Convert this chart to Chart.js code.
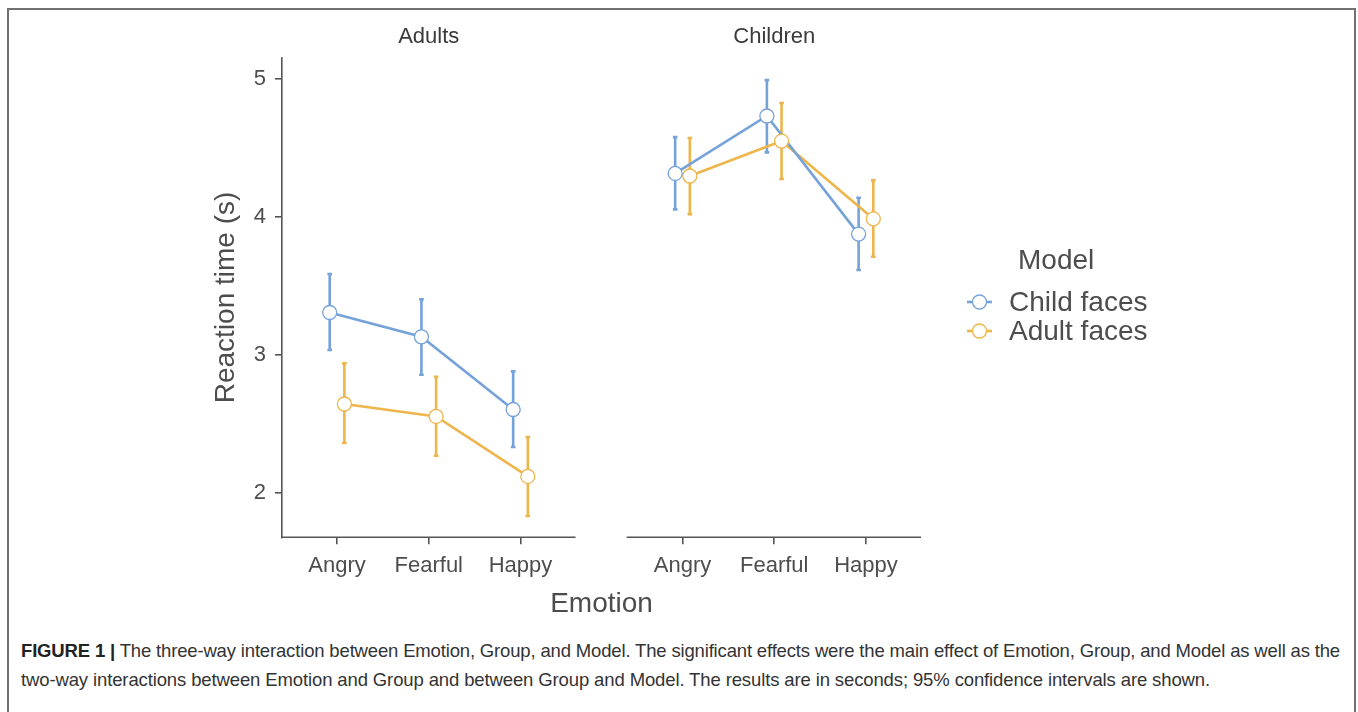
<!DOCTYPE html>
<html>
<head>
<meta charset="utf-8">
<script src="https://cdn.jsdelivr.net/npm/chart.js@4.4.0/dist/chart.umd.min.js"></script>
<style>
  body { margin: 0; background: #fff; width: 1358px; height: 712px; overflow: hidden; position: relative;
         font-family: "Liberation Sans", Arial, sans-serif; }
  #frame { position: absolute; left: 7px; top: 8px; width: 1345px; height: 720px;
           border: 2px solid #707070; border-bottom: none; }
  #c { position: absolute; left: 0; top: 0; }
  .cap { position: absolute; left: 21px; font-size: 18.5px; line-height: 22px; color: #333; white-space: nowrap; }
  .cap b { font-weight: bold; color: #222; }
</style>
</head>
<body>
<div id="frame"></div>
<canvas id="c" width="1358" height="640"></canvas>
<div class="cap" id="cap1" style="top:640px"><b>FIGURE 1 |</b> The three-way interaction between Emotion, Group, and Model. The significant effects were the main effect of Emotion, Group, and Model as well as the</div>
<div class="cap" id="cap2" style="top:669px">two-way interactions between Emotion and Group and between Group and Model. The results are in seconds; 95% confidence intervals are shown.</div>
<script>
'use strict';

// categories
var emotions = ['Angry', 'Fearful', 'Happy'];
var groups = ['Adults', 'Children'];
var models = ['Child faces', 'Adult faces'];
var colors = ['#76a2da', '#eeb54b'];
var yTicks = [2, 3, 4, 5];

// values: Adults panel (Angry, Fearful, Happy) then Children panel
var childFacesMean = [3.304, 3.128, 2.601, 4.312, 4.728, 3.872];
var childFacesLow  = [3.032, 2.853, 2.329, 4.051, 4.464, 3.612];
var childFacesHigh = [3.583, 3.399, 2.877, 4.575, 4.988, 4.135];

var adultFacesMean = [2.641, 2.551, 2.116, 4.293, 4.546, 3.983];
var adultFacesLow  = [2.358, 2.266, 1.829, 4.017, 4.271, 3.708];
var adultFacesHigh = [2.935, 2.838, 2.401, 4.568, 4.822, 4.261];

var means = [childFacesMean, adultFacesMean];
var lows = [childFacesLow, adultFacesLow];
var highs = [childFacesHigh, adultFacesHigh];

var panelShift = 3.766;   // second facet sits after the first on one linear x scale
var dodge = [-0.08, 0.08];
var axisColor = '#555555';
var textColor = '#4d4d4d';

Chart.defaults.font.family = '"Liberation Sans", Arial, sans-serif';

function xPos(i, k) {
    var g = Math.floor(i / 3);
    return (i % 3) + 1 + g * panelShift + dodge[k];
}

function points(k) {
    return means[k].map(function (v, i) { return {x: xPos(i, k), y: v}; });
}

function linePoints(k) {
    var p = points(k);
    // break between the two facets
    p.splice(3, 0, {x: 3.6 + panelShift / 2, y: null});
    return p;
}

var tickVals = [];
groups.forEach(function (g, gi) {
    emotions.forEach(function (e, ei) { tickVals.push(ei + 1 + gi * panelShift); });
});

var datasets = [];
models.forEach(function (m, k) {
    datasets.push({
        label: m,
        data: points(k),
        showLine: false,
        pointRadius: 7,
        pointHoverRadius: 7,
        pointBorderWidth: 1.3,
        pointBackgroundColor: '#ffffff',
        pointBorderColor: colors[k],
        order: 0
    });
});
models.forEach(function (m, k) {
    datasets.push({
        label: m + ' line',
        data: linePoints(k),
        borderColor: colors[k],
        borderWidth: 2.6,
        pointRadius: 0,
        spanGaps: false,
        order: 1 + k
    });
});

var facetPlugin = {
    id: 'facets',
    beforeDatasetsDraw: function (chart) {
        var ctx = chart.ctx, xs = chart.scales.x, ys = chart.scales.y;
        ctx.save();
        ctx.lineWidth = 2.6;
        ctx.lineCap = 'butt';
        for (var k = models.length - 1; k >= 0; k--) {
            ctx.strokeStyle = colors[k];
            lows[k].forEach(function (lo, i) {
                var px = xs.getPixelForValue(xPos(i, k));
                var y1 = ys.getPixelForValue(lo);
                var y2 = ys.getPixelForValue(highs[k][i]);
                ctx.beginPath();
                ctx.moveTo(px, y1); ctx.lineTo(px, y2);
                ctx.moveTo(px - 2.3, y1); ctx.lineTo(px + 2.3, y1);
                ctx.moveTo(px - 2.3, y2); ctx.lineTo(px + 2.3, y2);
                ctx.stroke();
            });
        }
        ctx.restore();
    },
    afterDraw: function (chart) {
        var ctx = chart.ctx, xs = chart.scales.x, area = chart.chartArea;
        ctx.save();
        // x axis line of each facet
        ctx.strokeStyle = axisColor;
        ctx.lineWidth = 1.6;
        groups.forEach(function (g, gi) {
            var a = xs.getPixelForValue(0.4 + gi * panelShift);
            var b = xs.getPixelForValue(3.6 + gi * panelShift);
            ctx.beginPath();
            ctx.moveTo(a - 0.8, area.bottom);
            ctx.lineTo(b, area.bottom);
            ctx.stroke();
        });
        // facet strip labels
        ctx.fillStyle = '#3a3a3a';
        ctx.font = '22px "Liberation Sans", Arial, sans-serif';
        ctx.textAlign = 'center';
        ctx.textBaseline = 'middle';
        groups.forEach(function (g, gi) {
            ctx.fillText(g, xs.getPixelForValue(2 + gi * panelShift), 37);
        });
        // legend
        ctx.textAlign = 'left';
        ctx.fillStyle = textColor;
        ctx.font = '28px "Liberation Sans", Arial, sans-serif';
        ctx.fillText('Model', 1018, 261);
        models.forEach(function (m, k) {
            var y = 302 + k * 29;
            ctx.strokeStyle = colors[k];
            ctx.lineWidth = 2.6;
            ctx.beginPath();
            ctx.moveTo(967, y); ctx.lineTo(992, y);
            ctx.stroke();
            ctx.beginPath();
            ctx.arc(979.5, y, 7, 0, Math.PI * 2);
            ctx.fillStyle = '#ffffff';
            ctx.fill();
            ctx.lineWidth = 1.3;
            ctx.stroke();
            ctx.fillStyle = textColor;
            ctx.fillText(m, 1009, y + 1);
        });
        ctx.restore();
    }
};

new Chart(document.getElementById('c').getContext('2d'), {
    type: 'line',
    data: {datasets: datasets},
    options: {
        responsive: false,
        animation: false,
        layout: {padding: {left: 190, right: 437, top: 57.6, bottom: 12.7}},
        plugins: {legend: {display: false}, tooltip: {enabled: false}},
        scales: {
            x: {
                type: 'linear',
                min: 0.4,
                max: 3.6 + panelShift,
                afterBuildTicks: function (s) {
                    s.ticks = tickVals.map(function (v) { return {value: v}; });
                },
                afterFit: function (s) { s.height = 90; },
                border: {display: false},
                grid: {drawOnChartArea: false, drawTicks: true, tickLength: 7, color: axisColor, lineWidth: 1.6},
                ticks: {
                    color: textColor,
                    font: {size: 22},
                    padding: 8,
                    maxRotation: 0,
                    autoSkip: false,
                    callback: function (v, i) { return emotions[i % 3]; }
                },
                title: {display: true, text: 'Emotion', color: textColor, font: {size: 28}, padding: {top: 0, bottom: 6}}
            },
            y: {
                min: 1.675,
                max: 5.151,
                afterBuildTicks: function (s) {
                    s.ticks = yTicks.map(function (v) { return {value: v}; });
                },
                afterFit: function (s) { s.width = 92; },
                border: {display: true, color: axisColor, width: 1.6},
                grid: {drawOnChartArea: false, drawTicks: true, tickLength: 7, color: axisColor, lineWidth: 1.6},
                ticks: {color: textColor, font: {size: 22}, padding: 9},
                title: {display: true, text: 'Reaction time (s)', color: textColor, font: {size: 28}, padding: {top: 19, bottom: 0}}
            }
        }
    },
    plugins: [facetPlugin]
});

// squeeze caption lines to the printed line widths
function fitLine(id, target) {
    var el = document.getElementById(id);
    var text = el.textContent;
    var w = el.getBoundingClientRect().width;
    el.style.letterSpacing = ((target - w) / text.length) + 'px';
}
fitLine('cap1', 1319);
fitLine('cap2', 1189);
</script>
</body>
</html>
